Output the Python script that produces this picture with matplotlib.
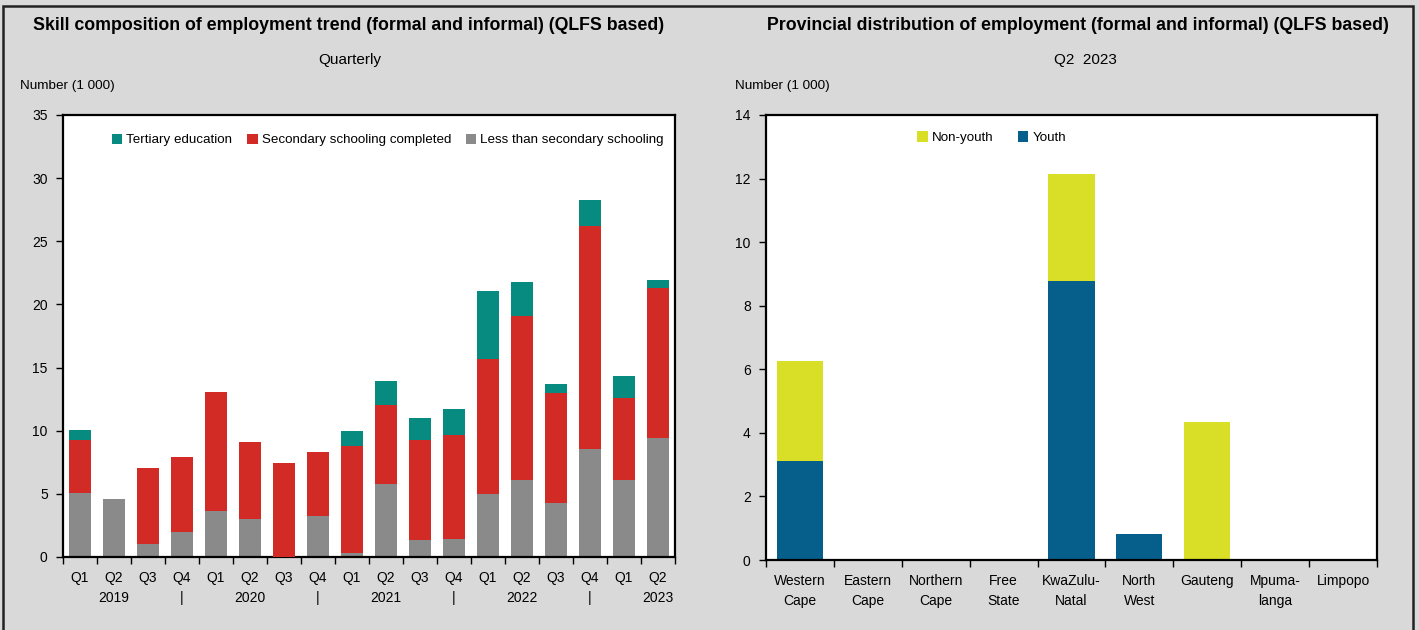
import matplotlib
matplotlib.use("Agg")
import matplotlib.pyplot as plt
import numpy as np
from matplotlib.patches import Rectangle

plt.rcParams['font.family'] = ['Liberation Sans Narrow', 'Liberation Sans', 'DejaVu Sans']

# ---------------- Data ----------------
quarters = ["Q1", "Q2", "Q3", "Q4"] * 4 + ["Q1", "Q2"]
year_row = ["", "2019", "", "|", "", "2020", "", "|", "", "2021", "", "|",
            "", "2022", "", "|", "", "2023"]
less_secondary = [5.07, 4.62, 1.06, 1.98, 3.62, 3.04, -0.2, 3.22, 0.34, 5.81,
                  1.32, 1.43, 4.97, 6.13, 4.28, 8.56, 6.13, 9.40]
secondary = [4.17, 0.0, 5.99, 5.94, 9.45, 6.05, 7.67, 5.10, 8.48, 6.19,
             7.92, 8.24, 10.72, 12.94, 8.74, 17.67, 6.50, 11.94]
tertiary = [0.85, 0.0, 0.0, 0.0, 0.0, 0.0, 0.0, 0.0, 1.16, 1.97,
            1.77, 2.08, 5.36, 2.69, 0.66, 2.03, 1.69, 0.58]

provinces = ["Western\nCape", "Eastern\nCape", "Northern\nCape", "Free\nState",
             "KwaZulu-\nNatal", "North\nWest", "Gauteng", "Mpuma-\nlanga", "Limpopo"]
youth = [3.12, 0.0, 0.0, 0.0, 8.79, 0.82, 0.0, 0.0, 0.0]
non_youth = [3.13, 0.0, 0.0, 0.0, 3.35, 0.0, 4.34, 0.0, 0.0]

# ---------------- Style ----------------
BG = "#d9d9d9"
C_TER = "#078a80"
C_SEC = "#d22b26"
C_LESS = "#8a8a8a"
C_NY = "#d9df26"
C_Y = "#065e8a"

W, H = 1419, 630
fig = plt.figure(figsize=(W / 100, H / 100), dpi=100, facecolor=BG)

# figure border
fig.add_artist(Rectangle((3 / W, -0.02), (1413 - 3) / W, (H - 6) / H + 0.02,
                         transform=fig.transFigure, fill=False,
                         edgecolor="#222222", linewidth=1.8))

TICK_FS = 10


def style_axes(ax):
    ax.set_facecolor("white")
    for s in ax.spines.values():
        s.set_color("black")
        s.set_linewidth(1.6)
    ax.tick_params(axis="y", direction="out", length=5, width=1, labelsize=TICK_FS, pad=6)
    ax.tick_params(axis="x", which="major", length=0, labelsize=TICK_FS, pad=10)
    ax.tick_params(axis="x", which="minor", direction="out", length=5, width=1)


# ---------------- Left chart ----------------
axL = fig.add_axes([63 / W, (H - 557) / H, 612 / W, 442 / H])
style_axes(axL)
x = np.arange(len(quarters))
bw = 0.64
gray = np.array(less_secondary)
sec = np.array(secondary)
ter = np.array(tertiary)
b1 = axL.bar(x, gray, bw, color=C_LESS, label="Less than secondary schooling", zorder=2)
b2 = axL.bar(x, sec, bw, bottom=gray, color=C_SEC, label="Secondary schooling completed", zorder=3)
b3 = axL.bar(x, ter, bw, bottom=gray + sec, color=C_TER, label="Tertiary education", zorder=3)
axL.set_xlim(-0.5, len(quarters) - 0.5)
axL.set_ylim(0, 35)
axL.set_yticks(np.arange(0, 36, 5))
axL.set_xticks(x)
axL.set_xticklabels([f"{q}\n{y}" for q, y in zip(quarters, year_row)], linespacing=1.55)
axL.set_xticks(np.arange(-0.5, len(quarters), 1), minor=True)
axL.legend(handles=[b3, b2, b1], loc="upper left", bbox_to_anchor=(0.06, 0.985),
           ncol=3, frameon=False, fontsize=9.6, handlelength=0.8, handleheight=0.8,
           handletextpad=0.3, columnspacing=1.1)

fig.text(349 / W, 1 - 26 / H, "Skill composition of employment trend (formal and informal) (QLFS based)",
         ha="center", va="center", fontsize=12.8, fontweight="bold")
fig.text(350 / W, 1 - 60 / H, "Quarterly", ha="center", va="center", fontsize=11)
fig.text(20 / W, 1 - 86 / H, "Number (1 000)", ha="left", va="center", fontsize=9.7)

# ---------------- Right chart ----------------
axR = fig.add_axes([766 / W, (H - 560) / H, 611 / W, 445 / H])
style_axes(axR)
xr = np.arange(len(provinces))
bw2 = 0.68
yv = np.array(youth)
nv = np.array(non_youth)
r1 = axR.bar(xr, yv, bw2, color=C_Y, label="Youth", zorder=2)
r2 = axR.bar(xr, nv, bw2, bottom=yv, color=C_NY, label="Non-youth", zorder=2)
axR.set_xlim(-0.5, len(provinces) - 0.5)
axR.set_ylim(0, 14)
axR.set_yticks(np.arange(0, 15, 2))
axR.set_xticks(xr)
axR.set_xticklabels(provinces, linespacing=1.55)
axR.set_xticks(np.arange(-0.5, len(provinces), 1), minor=True)
axR.legend(handles=[r2, r1], loc="upper left", bbox_to_anchor=(0.228, 0.99),
           ncol=2, frameon=False, fontsize=9.6, handlelength=0.8, handleheight=0.8,
           handletextpad=0.3, columnspacing=1.8)

fig.text(1078 / W, 1 - 26 / H, "Provincial distribution of employment (formal and informal) (QLFS based)",
         ha="center", va="center", fontsize=12.8, fontweight="bold")
fig.text(1085 / W, 1 - 60 / H, "Q2  2023", ha="center", va="center", fontsize=11)
fig.text(735 / W, 1 - 86 / H, "Number (1 000)", ha="left", va="center", fontsize=9.7)

fig.savefig("out.png", dpi=100, facecolor=BG)
